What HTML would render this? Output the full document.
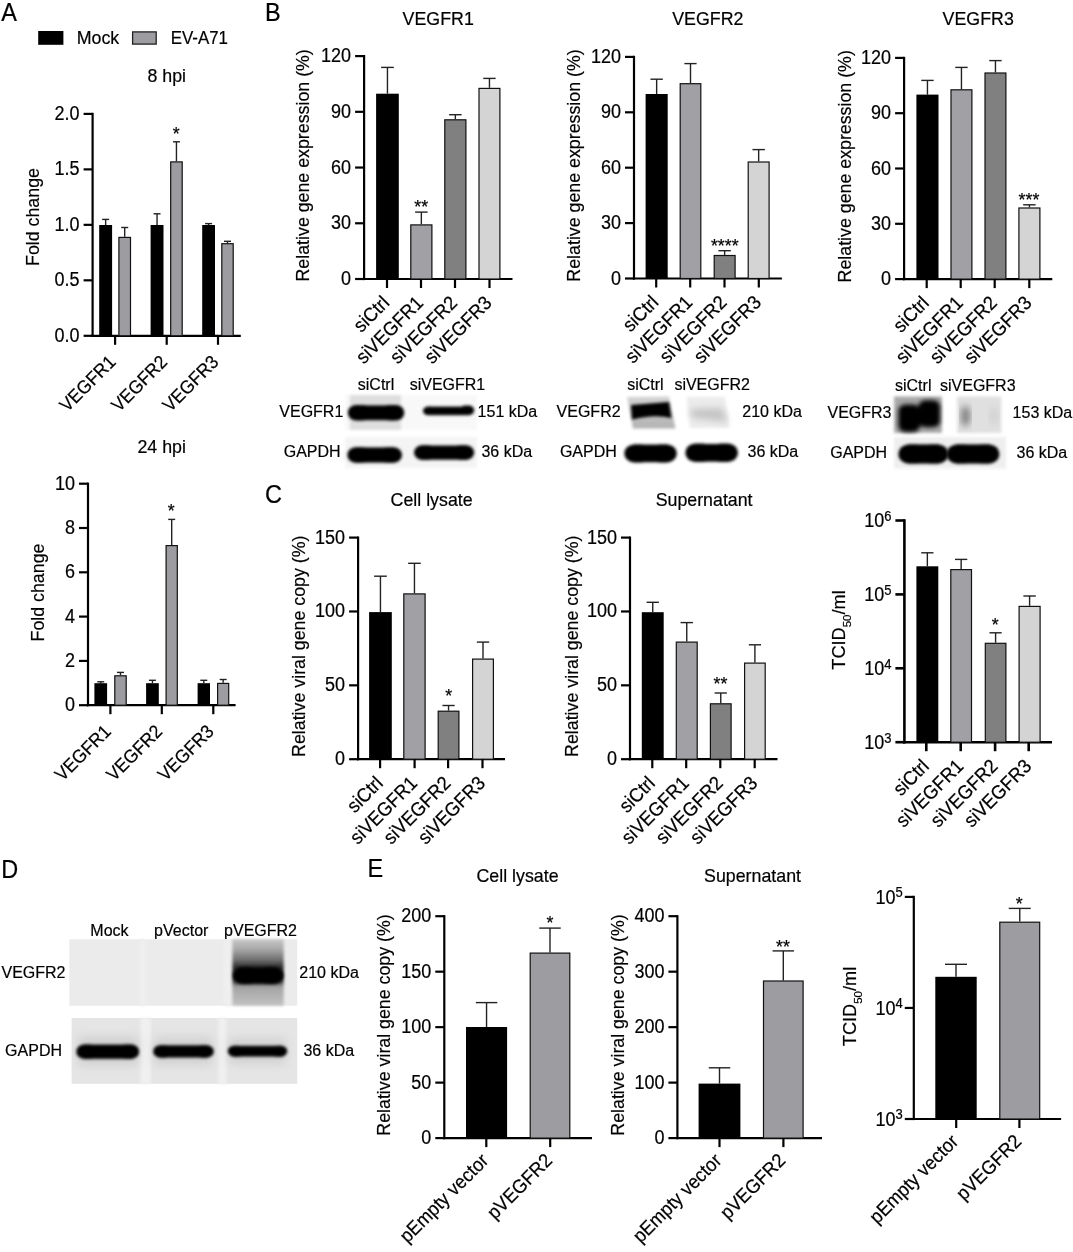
<!DOCTYPE html>
<html><head><meta charset="utf-8"><style>
html,body{margin:0;padding:0;background:#fff;}
svg{display:block;will-change:transform;}
text{font-family:"Liberation Sans",sans-serif;fill:#000;stroke:#000;stroke-width:0.2px;}
</style></head><body>
<svg width="1073" height="1252" viewBox="0 0 1073 1252">
<defs>
<linearGradient id="gd3" x1="0" y1="0" x2="0" y2="1"><stop offset="0" stop-color="#c6c6c6"/><stop offset="0.15" stop-color="#a8a8a8"/><stop offset="0.32" stop-color="#6a6a6a"/><stop offset="0.42" stop-color="#2a2a2a"/><stop offset="0.64" stop-color="#444"/><stop offset="0.72" stop-color="#a4a4a4"/><stop offset="1" stop-color="#c2c2c2"/></linearGradient>
<linearGradient id="gv2" x1="0" y1="0" x2="0" y2="1"><stop offset="0" stop-color="#d4d4d4"/><stop offset="1" stop-color="#b2b2b2"/></linearGradient>
<filter id="b1" x="-20%" y="-50%" width="140%" height="200%"><feGaussianBlur stdDeviation="1.9"/></filter>
<filter id="b2" x="-20%" y="-50%" width="140%" height="200%"><feGaussianBlur stdDeviation="3.5"/></filter>
<filter id="b4" x="-30%" y="-60%" width="160%" height="220%"><feGaussianBlur stdDeviation="5"/></filter>
<filter id="b3" x="-20%" y="-50%" width="140%" height="200%"><feGaussianBlur stdDeviation="1.5"/></filter>
</defs>
<rect x="38.20" y="31.00" width="25.20" height="13.80" fill="#000"/>
<text transform="translate(76.70,44.40) scale(1,1.07)" font-size="17.8" text-anchor="start" >Mock</text>
<rect x="132.60" y="31.90" width="23.60" height="12.20" fill="#9d9da1" stroke="#222" stroke-width="1.3"/>
<text transform="translate(170.70,44.40) scale(1,1.07)" font-size="17.8" text-anchor="start" textLength="57.3" lengthAdjust="spacingAndGlyphs">EV-A71</text>
<text transform="translate(166.70,82.20) scale(1,1.07)" font-size="17.8" text-anchor="middle" >8 hpi</text>
<line x1="92.60" y1="112.80" x2="92.60" y2="336.90" stroke="#000" stroke-width="2.2"/>
<line x1="91.50" y1="335.80" x2="240.80" y2="335.80" stroke="#000" stroke-width="2.2"/>
<line x1="83.60" y1="335.80" x2="92.60" y2="335.80" stroke="#000" stroke-width="2.2"/>
<text transform="translate(79.60,341.80) scale(1,1.08)" font-size="18.0" text-anchor="end" >0.0</text>
<line x1="83.60" y1="280.32" x2="92.60" y2="280.32" stroke="#000" stroke-width="2.2"/>
<text transform="translate(79.60,286.32) scale(1,1.08)" font-size="18.0" text-anchor="end" >0.5</text>
<line x1="83.60" y1="224.85" x2="92.60" y2="224.85" stroke="#000" stroke-width="2.2"/>
<text transform="translate(79.60,230.85) scale(1,1.08)" font-size="18.0" text-anchor="end" >1.0</text>
<line x1="83.60" y1="169.38" x2="92.60" y2="169.38" stroke="#000" stroke-width="2.2"/>
<text transform="translate(79.60,175.38) scale(1,1.08)" font-size="18.0" text-anchor="end" >1.5</text>
<line x1="83.60" y1="113.90" x2="92.60" y2="113.90" stroke="#000" stroke-width="2.2"/>
<text transform="translate(79.60,119.90) scale(1,1.08)" font-size="18.0" text-anchor="end" >2.0</text>
<line x1="105.65" y1="219.40" x2="105.65" y2="225.00" stroke="#222" stroke-width="1.4"/>
<line x1="102.15" y1="219.40" x2="109.15" y2="219.40" stroke="#222" stroke-width="1.4"/>
<rect x="99.20" y="225.00" width="12.90" height="110.80" fill="#000"/>
<line x1="124.70" y1="227.50" x2="124.70" y2="236.80" stroke="#222" stroke-width="1.4"/>
<line x1="121.20" y1="227.50" x2="128.20" y2="227.50" stroke="#222" stroke-width="1.4"/>
<rect x="118.90" y="237.40" width="11.60" height="98.40" fill="#9d9da1" stroke="#111" stroke-width="1.2"/>
<line x1="157.05" y1="213.80" x2="157.05" y2="225.00" stroke="#222" stroke-width="1.4"/>
<line x1="153.55" y1="213.80" x2="160.55" y2="213.80" stroke="#222" stroke-width="1.4"/>
<rect x="150.60" y="225.00" width="12.90" height="110.80" fill="#000"/>
<line x1="176.45" y1="141.80" x2="176.45" y2="161.30" stroke="#222" stroke-width="1.4"/>
<line x1="172.95" y1="141.80" x2="179.95" y2="141.80" stroke="#222" stroke-width="1.4"/>
<rect x="170.70" y="161.90" width="11.50" height="173.90" fill="#9d9da1" stroke="#111" stroke-width="1.2"/>
<line x1="208.60" y1="223.60" x2="208.60" y2="225.00" stroke="#222" stroke-width="1.4"/>
<line x1="205.10" y1="223.60" x2="212.10" y2="223.60" stroke="#222" stroke-width="1.4"/>
<rect x="202.20" y="225.00" width="12.80" height="110.80" fill="#000"/>
<line x1="227.50" y1="241.30" x2="227.50" y2="243.10" stroke="#222" stroke-width="1.4"/>
<line x1="224.00" y1="241.30" x2="231.00" y2="241.30" stroke="#222" stroke-width="1.4"/>
<rect x="221.80" y="243.70" width="11.40" height="92.10" fill="#9d9da1" stroke="#111" stroke-width="1.2"/>
<line x1="115.10" y1="335.80" x2="115.10" y2="344.80" stroke="#000" stroke-width="2.2"/>
<line x1="166.70" y1="335.80" x2="166.70" y2="344.80" stroke="#000" stroke-width="2.2"/>
<line x1="218.00" y1="335.80" x2="218.00" y2="344.80" stroke="#000" stroke-width="2.2"/>
<text transform="translate(116.80,363.20) rotate(-45) scale(1,1.07)" font-size="17.5" text-anchor="end">VEGFR1</text>
<text transform="translate(168.40,363.20) rotate(-45) scale(1,1.07)" font-size="17.5" text-anchor="end">VEGFR2</text>
<text transform="translate(219.70,363.20) rotate(-45) scale(1,1.07)" font-size="17.5" text-anchor="end">VEGFR3</text>
<text transform="translate(38.50,217.00) rotate(-90)" font-size="17.8" text-anchor="middle">Fold change</text>
<text transform="translate(176.20,140.20) scale(1,1.07)" font-size="17.8" text-anchor="middle" >*</text>
<text transform="translate(161.70,452.60) scale(1,1.07)" font-size="17.8" text-anchor="middle" >24 hpi</text>
<line x1="88.00" y1="482.60" x2="88.00" y2="706.30" stroke="#000" stroke-width="2.2"/>
<line x1="86.90" y1="705.20" x2="235.60" y2="705.20" stroke="#000" stroke-width="2.2"/>
<line x1="79.00" y1="705.20" x2="88.00" y2="705.20" stroke="#000" stroke-width="2.2"/>
<text transform="translate(75.00,711.20) scale(1,1.08)" font-size="18.0" text-anchor="end" >0</text>
<line x1="79.00" y1="660.90" x2="88.00" y2="660.90" stroke="#000" stroke-width="2.2"/>
<text transform="translate(75.00,666.90) scale(1,1.08)" font-size="18.0" text-anchor="end" >2</text>
<line x1="79.00" y1="616.60" x2="88.00" y2="616.60" stroke="#000" stroke-width="2.2"/>
<text transform="translate(75.00,622.60) scale(1,1.08)" font-size="18.0" text-anchor="end" >4</text>
<line x1="79.00" y1="572.30" x2="88.00" y2="572.30" stroke="#000" stroke-width="2.2"/>
<text transform="translate(75.00,578.30) scale(1,1.08)" font-size="18.0" text-anchor="end" >6</text>
<line x1="79.00" y1="528.00" x2="88.00" y2="528.00" stroke="#000" stroke-width="2.2"/>
<text transform="translate(75.00,534.00) scale(1,1.08)" font-size="18.0" text-anchor="end" >8</text>
<line x1="79.00" y1="483.70" x2="88.00" y2="483.70" stroke="#000" stroke-width="2.2"/>
<text transform="translate(75.00,489.70) scale(1,1.08)" font-size="18.0" text-anchor="end" >10</text>
<line x1="100.75" y1="681.80" x2="100.75" y2="683.20" stroke="#222" stroke-width="1.4"/>
<line x1="97.25" y1="681.80" x2="104.25" y2="681.80" stroke="#222" stroke-width="1.4"/>
<rect x="94.40" y="683.20" width="12.70" height="22.00" fill="#000"/>
<line x1="120.50" y1="672.40" x2="120.50" y2="675.20" stroke="#222" stroke-width="1.4"/>
<line x1="117.00" y1="672.40" x2="124.00" y2="672.40" stroke="#222" stroke-width="1.4"/>
<rect x="114.80" y="675.80" width="11.40" height="29.40" fill="#9d9da1" stroke="#111" stroke-width="1.2"/>
<line x1="152.45" y1="680.30" x2="152.45" y2="683.20" stroke="#222" stroke-width="1.4"/>
<line x1="148.95" y1="680.30" x2="155.95" y2="680.30" stroke="#222" stroke-width="1.4"/>
<rect x="146.10" y="683.20" width="12.70" height="22.00" fill="#000"/>
<line x1="171.70" y1="519.40" x2="171.70" y2="545.00" stroke="#222" stroke-width="1.4"/>
<line x1="168.20" y1="519.40" x2="175.20" y2="519.40" stroke="#222" stroke-width="1.4"/>
<rect x="166.10" y="545.60" width="11.20" height="159.60" fill="#9d9da1" stroke="#111" stroke-width="1.2"/>
<line x1="203.80" y1="680.30" x2="203.80" y2="683.20" stroke="#222" stroke-width="1.4"/>
<line x1="200.30" y1="680.30" x2="207.30" y2="680.30" stroke="#222" stroke-width="1.4"/>
<rect x="197.60" y="683.20" width="12.40" height="22.00" fill="#000"/>
<line x1="223.15" y1="679.50" x2="223.15" y2="682.80" stroke="#222" stroke-width="1.4"/>
<line x1="219.65" y1="679.50" x2="226.65" y2="679.50" stroke="#222" stroke-width="1.4"/>
<rect x="217.60" y="683.40" width="11.10" height="21.80" fill="#9d9da1" stroke="#111" stroke-width="1.2"/>
<line x1="110.40" y1="705.20" x2="110.40" y2="714.20" stroke="#000" stroke-width="2.2"/>
<line x1="161.80" y1="705.20" x2="161.80" y2="714.20" stroke="#000" stroke-width="2.2"/>
<line x1="213.30" y1="705.20" x2="213.30" y2="714.20" stroke="#000" stroke-width="2.2"/>
<text transform="translate(112.10,732.60) rotate(-45) scale(1,1.07)" font-size="17.5" text-anchor="end">VEGFR1</text>
<text transform="translate(163.50,732.60) rotate(-45) scale(1,1.07)" font-size="17.5" text-anchor="end">VEGFR2</text>
<text transform="translate(215.00,732.60) rotate(-45) scale(1,1.07)" font-size="17.5" text-anchor="end">VEGFR3</text>
<text transform="translate(44.00,592.50) rotate(-90)" font-size="17.8" text-anchor="middle">Fold change</text>
<text transform="translate(171.20,517.00) scale(1,1.07)" font-size="17.8" text-anchor="middle" >*</text>
<line x1="364.10" y1="55.00" x2="364.10" y2="280.10" stroke="#000" stroke-width="2.2"/>
<line x1="363.00" y1="279.00" x2="512.50" y2="279.00" stroke="#000" stroke-width="2.2"/>
<line x1="355.10" y1="279.00" x2="364.10" y2="279.00" stroke="#000" stroke-width="2.2"/>
<text transform="translate(351.10,285.00) scale(1,1.08)" font-size="18.0" text-anchor="end" >0</text>
<line x1="355.10" y1="223.28" x2="364.10" y2="223.28" stroke="#000" stroke-width="2.2"/>
<text transform="translate(351.10,229.28) scale(1,1.08)" font-size="18.0" text-anchor="end" >30</text>
<line x1="355.10" y1="167.55" x2="364.10" y2="167.55" stroke="#000" stroke-width="2.2"/>
<text transform="translate(351.10,173.55) scale(1,1.08)" font-size="18.0" text-anchor="end" >60</text>
<line x1="355.10" y1="111.82" x2="364.10" y2="111.82" stroke="#000" stroke-width="2.2"/>
<text transform="translate(351.10,117.82) scale(1,1.08)" font-size="18.0" text-anchor="end" >90</text>
<line x1="355.10" y1="56.10" x2="364.10" y2="56.10" stroke="#000" stroke-width="2.2"/>
<text transform="translate(351.10,62.10) scale(1,1.08)" font-size="18.0" text-anchor="end" >120</text>
<line x1="387.45" y1="67.40" x2="387.45" y2="93.70" stroke="#222" stroke-width="1.4"/>
<line x1="381.09" y1="67.40" x2="393.81" y2="67.40" stroke="#222" stroke-width="1.4"/>
<rect x="376.10" y="93.70" width="22.70" height="185.30" fill="#000"/>
<line x1="421.35" y1="212.10" x2="421.35" y2="224.30" stroke="#222" stroke-width="1.4"/>
<line x1="415.11" y1="212.10" x2="427.59" y2="212.10" stroke="#222" stroke-width="1.4"/>
<rect x="410.80" y="224.90" width="21.10" height="54.10" fill="#a0a0a5" stroke="#111" stroke-width="1.2"/>
<line x1="455.35" y1="114.70" x2="455.35" y2="119.20" stroke="#222" stroke-width="1.4"/>
<line x1="449.11" y1="114.70" x2="461.59" y2="114.70" stroke="#222" stroke-width="1.4"/>
<rect x="444.80" y="119.80" width="21.10" height="159.20" fill="#808080" stroke="#111" stroke-width="1.2"/>
<line x1="489.45" y1="78.40" x2="489.45" y2="87.80" stroke="#222" stroke-width="1.4"/>
<line x1="483.26" y1="78.40" x2="495.64" y2="78.40" stroke="#222" stroke-width="1.4"/>
<rect x="479.00" y="88.40" width="20.90" height="190.60" fill="#d4d4d4" stroke="#111" stroke-width="1.2"/>
<line x1="387.00" y1="279.00" x2="387.00" y2="288.00" stroke="#000" stroke-width="2.2"/>
<line x1="421.00" y1="279.00" x2="421.00" y2="288.00" stroke="#000" stroke-width="2.2"/>
<line x1="455.00" y1="279.00" x2="455.00" y2="288.00" stroke="#000" stroke-width="2.2"/>
<line x1="489.50" y1="279.00" x2="489.50" y2="288.00" stroke="#000" stroke-width="2.2"/>
<text transform="translate(390.50,304.00) rotate(-45) scale(1,1.07)" font-size="18.2" text-anchor="end">siCtrl</text>
<text transform="translate(424.50,304.00) rotate(-45) scale(1,1.07)" font-size="18.2" text-anchor="end">siVEGFR1</text>
<text transform="translate(458.50,304.00) rotate(-45) scale(1,1.07)" font-size="18.2" text-anchor="end">siVEGFR2</text>
<text transform="translate(493.00,304.00) rotate(-45) scale(1,1.07)" font-size="18.2" text-anchor="end">siVEGFR3</text>
<text transform="translate(308.50,165.35) rotate(-90)" font-size="17.8" text-anchor="middle">Relative gene expression (%)</text>
<text transform="translate(438.20,24.90) scale(1,1.07)" font-size="17.8" text-anchor="middle" >VEGFR1</text>
<text transform="translate(421.30,213.00) scale(1,1.07)" font-size="17.8" text-anchor="middle" >**</text>
<line x1="634.00" y1="55.80" x2="634.00" y2="279.60" stroke="#000" stroke-width="2.2"/>
<line x1="632.90" y1="278.50" x2="781.90" y2="278.50" stroke="#000" stroke-width="2.2"/>
<line x1="625.00" y1="278.50" x2="634.00" y2="278.50" stroke="#000" stroke-width="2.2"/>
<text transform="translate(621.00,284.50) scale(1,1.08)" font-size="18.0" text-anchor="end" >0</text>
<line x1="625.00" y1="223.10" x2="634.00" y2="223.10" stroke="#000" stroke-width="2.2"/>
<text transform="translate(621.00,229.10) scale(1,1.08)" font-size="18.0" text-anchor="end" >30</text>
<line x1="625.00" y1="167.70" x2="634.00" y2="167.70" stroke="#000" stroke-width="2.2"/>
<text transform="translate(621.00,173.70) scale(1,1.08)" font-size="18.0" text-anchor="end" >60</text>
<line x1="625.00" y1="112.30" x2="634.00" y2="112.30" stroke="#000" stroke-width="2.2"/>
<text transform="translate(621.00,118.30) scale(1,1.08)" font-size="18.0" text-anchor="end" >90</text>
<line x1="625.00" y1="56.90" x2="634.00" y2="56.90" stroke="#000" stroke-width="2.2"/>
<text transform="translate(621.00,62.90) scale(1,1.08)" font-size="18.0" text-anchor="end" >120</text>
<line x1="656.65" y1="79.20" x2="656.65" y2="94.00" stroke="#222" stroke-width="1.4"/>
<line x1="650.46" y1="79.20" x2="662.84" y2="79.20" stroke="#222" stroke-width="1.4"/>
<rect x="645.60" y="94.00" width="22.10" height="184.50" fill="#000"/>
<line x1="690.50" y1="63.60" x2="690.50" y2="83.10" stroke="#222" stroke-width="1.4"/>
<line x1="684.40" y1="63.60" x2="696.60" y2="63.60" stroke="#222" stroke-width="1.4"/>
<rect x="680.20" y="83.70" width="20.60" height="194.80" fill="#a0a0a5" stroke="#111" stroke-width="1.2"/>
<line x1="724.65" y1="250.70" x2="724.65" y2="254.90" stroke="#222" stroke-width="1.4"/>
<line x1="718.46" y1="250.70" x2="730.84" y2="250.70" stroke="#222" stroke-width="1.4"/>
<rect x="714.20" y="255.50" width="20.90" height="23.00" fill="#808080" stroke="#111" stroke-width="1.2"/>
<line x1="758.65" y1="149.60" x2="758.65" y2="161.40" stroke="#222" stroke-width="1.4"/>
<line x1="752.46" y1="149.60" x2="764.84" y2="149.60" stroke="#222" stroke-width="1.4"/>
<rect x="748.20" y="162.00" width="20.90" height="116.50" fill="#d4d4d4" stroke="#111" stroke-width="1.2"/>
<line x1="656.20" y1="278.50" x2="656.20" y2="287.50" stroke="#000" stroke-width="2.2"/>
<line x1="690.20" y1="278.50" x2="690.20" y2="287.50" stroke="#000" stroke-width="2.2"/>
<line x1="724.50" y1="278.50" x2="724.50" y2="287.50" stroke="#000" stroke-width="2.2"/>
<line x1="758.80" y1="278.50" x2="758.80" y2="287.50" stroke="#000" stroke-width="2.2"/>
<text transform="translate(659.70,303.50) rotate(-45) scale(1,1.07)" font-size="18.2" text-anchor="end">siCtrl</text>
<text transform="translate(693.70,303.50) rotate(-45) scale(1,1.07)" font-size="18.2" text-anchor="end">siVEGFR1</text>
<text transform="translate(728.00,303.50) rotate(-45) scale(1,1.07)" font-size="18.2" text-anchor="end">siVEGFR2</text>
<text transform="translate(762.30,303.50) rotate(-45) scale(1,1.07)" font-size="18.2" text-anchor="end">siVEGFR3</text>
<text transform="translate(580.00,165.50) rotate(-90)" font-size="17.8" text-anchor="middle">Relative gene expression (%)</text>
<text transform="translate(707.80,24.90) scale(1,1.07)" font-size="17.8" text-anchor="middle" >VEGFR2</text>
<text transform="translate(724.80,252.00) scale(1,1.07)" font-size="17.8" text-anchor="middle" >****</text>
<line x1="904.10" y1="56.80" x2="904.10" y2="280.20" stroke="#000" stroke-width="2.2"/>
<line x1="903.00" y1="279.10" x2="1052.30" y2="279.10" stroke="#000" stroke-width="2.2"/>
<line x1="895.10" y1="279.10" x2="904.10" y2="279.10" stroke="#000" stroke-width="2.2"/>
<text transform="translate(891.10,285.10) scale(1,1.08)" font-size="18.0" text-anchor="end" >0</text>
<line x1="895.10" y1="223.80" x2="904.10" y2="223.80" stroke="#000" stroke-width="2.2"/>
<text transform="translate(891.10,229.80) scale(1,1.08)" font-size="18.0" text-anchor="end" >30</text>
<line x1="895.10" y1="168.50" x2="904.10" y2="168.50" stroke="#000" stroke-width="2.2"/>
<text transform="translate(891.10,174.50) scale(1,1.08)" font-size="18.0" text-anchor="end" >60</text>
<line x1="895.10" y1="113.20" x2="904.10" y2="113.20" stroke="#000" stroke-width="2.2"/>
<text transform="translate(891.10,119.20) scale(1,1.08)" font-size="18.0" text-anchor="end" >90</text>
<line x1="895.10" y1="57.90" x2="904.10" y2="57.90" stroke="#000" stroke-width="2.2"/>
<text transform="translate(891.10,63.90) scale(1,1.08)" font-size="18.0" text-anchor="end" >120</text>
<line x1="927.45" y1="80.40" x2="927.45" y2="94.60" stroke="#222" stroke-width="1.4"/>
<line x1="921.26" y1="80.40" x2="933.64" y2="80.40" stroke="#222" stroke-width="1.4"/>
<rect x="916.40" y="94.60" width="22.10" height="184.50" fill="#000"/>
<line x1="961.45" y1="67.40" x2="961.45" y2="89.20" stroke="#222" stroke-width="1.4"/>
<line x1="955.26" y1="67.40" x2="967.64" y2="67.40" stroke="#222" stroke-width="1.4"/>
<rect x="951.00" y="89.80" width="20.90" height="189.30" fill="#a0a0a5" stroke="#111" stroke-width="1.2"/>
<line x1="995.45" y1="60.60" x2="995.45" y2="72.40" stroke="#222" stroke-width="1.4"/>
<line x1="989.26" y1="60.60" x2="1001.64" y2="60.60" stroke="#222" stroke-width="1.4"/>
<rect x="985.00" y="73.00" width="20.90" height="206.10" fill="#808080" stroke="#111" stroke-width="1.2"/>
<line x1="1029.40" y1="204.80" x2="1029.40" y2="207.40" stroke="#222" stroke-width="1.4"/>
<line x1="1023.18" y1="204.80" x2="1035.62" y2="204.80" stroke="#222" stroke-width="1.4"/>
<rect x="1018.90" y="208.00" width="21.00" height="71.10" fill="#d4d4d4" stroke="#111" stroke-width="1.2"/>
<line x1="926.70" y1="279.10" x2="926.70" y2="288.10" stroke="#000" stroke-width="2.2"/>
<line x1="960.70" y1="279.10" x2="960.70" y2="288.10" stroke="#000" stroke-width="2.2"/>
<line x1="994.70" y1="279.10" x2="994.70" y2="288.10" stroke="#000" stroke-width="2.2"/>
<line x1="1029.30" y1="279.10" x2="1029.30" y2="288.10" stroke="#000" stroke-width="2.2"/>
<text transform="translate(930.20,304.10) rotate(-45) scale(1,1.07)" font-size="18.2" text-anchor="end">siCtrl</text>
<text transform="translate(964.20,304.10) rotate(-45) scale(1,1.07)" font-size="18.2" text-anchor="end">siVEGFR1</text>
<text transform="translate(998.20,304.10) rotate(-45) scale(1,1.07)" font-size="18.2" text-anchor="end">siVEGFR2</text>
<text transform="translate(1032.80,304.10) rotate(-45) scale(1,1.07)" font-size="18.2" text-anchor="end">siVEGFR3</text>
<text transform="translate(851.00,166.30) rotate(-90)" font-size="17.8" text-anchor="middle">Relative gene expression (%)</text>
<text transform="translate(978.20,24.90) scale(1,1.07)" font-size="17.8" text-anchor="middle" >VEGFR3</text>
<text transform="translate(1029.00,206.20) scale(1,1.07)" font-size="17.8" text-anchor="middle" >***</text>
<line x1="358.10" y1="536.50" x2="358.10" y2="760.30" stroke="#000" stroke-width="2.2"/>
<line x1="357.00" y1="759.20" x2="505.00" y2="759.20" stroke="#000" stroke-width="2.2"/>
<line x1="349.10" y1="759.20" x2="358.10" y2="759.20" stroke="#000" stroke-width="2.2"/>
<text transform="translate(345.10,765.20) scale(1,1.08)" font-size="18.0" text-anchor="end" >0</text>
<line x1="349.10" y1="685.33" x2="358.10" y2="685.33" stroke="#000" stroke-width="2.2"/>
<text transform="translate(345.10,691.33) scale(1,1.08)" font-size="18.0" text-anchor="end" >50</text>
<line x1="349.10" y1="611.47" x2="358.10" y2="611.47" stroke="#000" stroke-width="2.2"/>
<text transform="translate(345.10,617.47) scale(1,1.08)" font-size="18.0" text-anchor="end" >100</text>
<line x1="349.10" y1="537.60" x2="358.10" y2="537.60" stroke="#000" stroke-width="2.2"/>
<text transform="translate(345.10,543.60) scale(1,1.08)" font-size="18.0" text-anchor="end" >150</text>
<line x1="380.45" y1="576.20" x2="380.45" y2="612.10" stroke="#222" stroke-width="1.4"/>
<line x1="374.09" y1="576.20" x2="386.81" y2="576.20" stroke="#222" stroke-width="1.4"/>
<rect x="369.10" y="612.10" width="22.70" height="147.10" fill="#000"/>
<line x1="414.45" y1="563.30" x2="414.45" y2="593.30" stroke="#222" stroke-width="1.4"/>
<line x1="408.15" y1="563.30" x2="420.75" y2="563.30" stroke="#222" stroke-width="1.4"/>
<rect x="403.80" y="593.90" width="21.30" height="165.30" fill="#a0a0a5" stroke="#111" stroke-width="1.2"/>
<line x1="448.55" y1="705.50" x2="448.55" y2="710.60" stroke="#222" stroke-width="1.4"/>
<line x1="442.42" y1="705.50" x2="454.68" y2="705.50" stroke="#222" stroke-width="1.4"/>
<rect x="438.20" y="711.20" width="20.70" height="48.00" fill="#808080" stroke="#111" stroke-width="1.2"/>
<line x1="483.00" y1="642.10" x2="483.00" y2="658.50" stroke="#222" stroke-width="1.4"/>
<line x1="476.84" y1="642.10" x2="489.16" y2="642.10" stroke="#222" stroke-width="1.4"/>
<rect x="472.60" y="659.10" width="20.80" height="100.10" fill="#d4d4d4" stroke="#111" stroke-width="1.2"/>
<line x1="380.10" y1="759.20" x2="380.10" y2="768.20" stroke="#000" stroke-width="2.2"/>
<line x1="414.60" y1="759.20" x2="414.60" y2="768.20" stroke="#000" stroke-width="2.2"/>
<line x1="448.10" y1="759.20" x2="448.10" y2="768.20" stroke="#000" stroke-width="2.2"/>
<line x1="482.50" y1="759.20" x2="482.50" y2="768.20" stroke="#000" stroke-width="2.2"/>
<text transform="translate(384.00,784.40) rotate(-45) scale(1,1.07)" font-size="18.2" text-anchor="end">siCtrl</text>
<text transform="translate(418.50,784.40) rotate(-45) scale(1,1.07)" font-size="18.2" text-anchor="end">siVEGFR1</text>
<text transform="translate(452.00,784.40) rotate(-45) scale(1,1.07)" font-size="18.2" text-anchor="end">siVEGFR2</text>
<text transform="translate(486.40,784.40) rotate(-45) scale(1,1.07)" font-size="18.2" text-anchor="end">siVEGFR3</text>
<text transform="translate(304.50,646.20) rotate(-90)" font-size="17.8" text-anchor="middle">Relative viral gene copy (%)</text>
<text transform="translate(431.60,506.30) scale(1,1.07)" font-size="17.8" text-anchor="middle" >Cell lysate</text>
<text transform="translate(448.60,701.50) scale(1,1.07)" font-size="17.8" text-anchor="middle" >*</text>
<line x1="630.00" y1="536.50" x2="630.00" y2="760.30" stroke="#000" stroke-width="2.2"/>
<line x1="628.90" y1="759.20" x2="777.50" y2="759.20" stroke="#000" stroke-width="2.2"/>
<line x1="621.00" y1="759.20" x2="630.00" y2="759.20" stroke="#000" stroke-width="2.2"/>
<text transform="translate(617.00,765.20) scale(1,1.08)" font-size="18.0" text-anchor="end" >0</text>
<line x1="621.00" y1="685.33" x2="630.00" y2="685.33" stroke="#000" stroke-width="2.2"/>
<text transform="translate(617.00,691.33) scale(1,1.08)" font-size="18.0" text-anchor="end" >50</text>
<line x1="621.00" y1="611.47" x2="630.00" y2="611.47" stroke="#000" stroke-width="2.2"/>
<text transform="translate(617.00,617.47) scale(1,1.08)" font-size="18.0" text-anchor="end" >100</text>
<line x1="621.00" y1="537.60" x2="630.00" y2="537.60" stroke="#000" stroke-width="2.2"/>
<text transform="translate(617.00,543.60) scale(1,1.08)" font-size="18.0" text-anchor="end" >150</text>
<line x1="652.75" y1="602.30" x2="652.75" y2="612.20" stroke="#222" stroke-width="1.4"/>
<line x1="646.62" y1="602.30" x2="658.88" y2="602.30" stroke="#222" stroke-width="1.4"/>
<rect x="641.80" y="612.20" width="21.90" height="147.00" fill="#000"/>
<line x1="686.75" y1="622.60" x2="686.75" y2="641.50" stroke="#222" stroke-width="1.4"/>
<line x1="680.56" y1="622.60" x2="692.94" y2="622.60" stroke="#222" stroke-width="1.4"/>
<rect x="676.30" y="642.10" width="20.90" height="117.10" fill="#a0a0a5" stroke="#111" stroke-width="1.2"/>
<line x1="720.75" y1="693.00" x2="720.75" y2="703.20" stroke="#222" stroke-width="1.4"/>
<line x1="714.62" y1="693.00" x2="726.88" y2="693.00" stroke="#222" stroke-width="1.4"/>
<rect x="710.40" y="703.80" width="20.70" height="55.40" fill="#808080" stroke="#111" stroke-width="1.2"/>
<line x1="754.90" y1="644.80" x2="754.90" y2="662.50" stroke="#222" stroke-width="1.4"/>
<line x1="748.80" y1="644.80" x2="761.00" y2="644.80" stroke="#222" stroke-width="1.4"/>
<rect x="744.60" y="663.10" width="20.60" height="96.10" fill="#d4d4d4" stroke="#111" stroke-width="1.2"/>
<line x1="652.30" y1="759.20" x2="652.30" y2="768.20" stroke="#000" stroke-width="2.2"/>
<line x1="686.20" y1="759.20" x2="686.20" y2="768.20" stroke="#000" stroke-width="2.2"/>
<line x1="720.30" y1="759.20" x2="720.30" y2="768.20" stroke="#000" stroke-width="2.2"/>
<line x1="754.70" y1="759.20" x2="754.70" y2="768.20" stroke="#000" stroke-width="2.2"/>
<text transform="translate(656.20,784.40) rotate(-45) scale(1,1.07)" font-size="18.2" text-anchor="end">siCtrl</text>
<text transform="translate(690.10,784.40) rotate(-45) scale(1,1.07)" font-size="18.2" text-anchor="end">siVEGFR1</text>
<text transform="translate(724.20,784.40) rotate(-45) scale(1,1.07)" font-size="18.2" text-anchor="end">siVEGFR2</text>
<text transform="translate(758.60,784.40) rotate(-45) scale(1,1.07)" font-size="18.2" text-anchor="end">siVEGFR3</text>
<text transform="translate(577.50,646.20) rotate(-90)" font-size="17.8" text-anchor="middle">Relative viral gene copy (%)</text>
<text transform="translate(704.10,506.30) scale(1,1.07)" font-size="17.8" text-anchor="middle" >Supernatant</text>
<text transform="translate(720.50,689.50) scale(1,1.07)" font-size="17.8" text-anchor="middle" >**</text>
<line x1="904.40" y1="519.20" x2="904.40" y2="743.50" stroke="#000" stroke-width="2.6"/>
<line x1="903.10" y1="742.20" x2="1052.00" y2="742.20" stroke="#000" stroke-width="2.6"/>
<line x1="895.40" y1="742.20" x2="904.40" y2="742.20" stroke="#000" stroke-width="2.6"/>
<text transform="translate(891.60,749.10) scale(1,1.08)" font-size="18.0" text-anchor="end">10<tspan font-size="13" dy="-6.0">3</tspan></text>
<line x1="895.40" y1="668.30" x2="904.40" y2="668.30" stroke="#000" stroke-width="2.6"/>
<text transform="translate(891.60,675.20) scale(1,1.08)" font-size="18.0" text-anchor="end">10<tspan font-size="13" dy="-6.0">4</tspan></text>
<line x1="895.40" y1="594.40" x2="904.40" y2="594.40" stroke="#000" stroke-width="2.6"/>
<text transform="translate(891.60,601.30) scale(1,1.08)" font-size="18.0" text-anchor="end">10<tspan font-size="13" dy="-6.0">5</tspan></text>
<line x1="895.40" y1="520.50" x2="904.40" y2="520.50" stroke="#000" stroke-width="2.6"/>
<text transform="translate(891.60,527.40) scale(1,1.08)" font-size="18.0" text-anchor="end">10<tspan font-size="13" dy="-6.0">6</tspan></text>
<line x1="927.35" y1="552.80" x2="927.35" y2="566.30" stroke="#222" stroke-width="1.4"/>
<line x1="921.22" y1="552.80" x2="933.48" y2="552.80" stroke="#222" stroke-width="1.4"/>
<rect x="916.40" y="566.30" width="21.90" height="175.90" fill="#000"/>
<line x1="961.15" y1="559.40" x2="961.15" y2="569.00" stroke="#222" stroke-width="1.4"/>
<line x1="955.02" y1="559.40" x2="967.28" y2="559.40" stroke="#222" stroke-width="1.4"/>
<rect x="950.80" y="569.60" width="20.70" height="172.60" fill="#a0a0a5" stroke="#111" stroke-width="1.2"/>
<line x1="995.60" y1="632.80" x2="995.60" y2="642.70" stroke="#222" stroke-width="1.4"/>
<line x1="989.50" y1="632.80" x2="1001.70" y2="632.80" stroke="#222" stroke-width="1.4"/>
<rect x="985.30" y="643.30" width="20.60" height="98.90" fill="#808080" stroke="#111" stroke-width="1.2"/>
<line x1="1029.60" y1="596.00" x2="1029.60" y2="605.80" stroke="#222" stroke-width="1.4"/>
<line x1="1023.38" y1="596.00" x2="1035.82" y2="596.00" stroke="#222" stroke-width="1.4"/>
<rect x="1019.10" y="606.40" width="21.00" height="135.80" fill="#d4d4d4" stroke="#111" stroke-width="1.2"/>
<line x1="926.30" y1="742.20" x2="926.30" y2="751.20" stroke="#000" stroke-width="2.6"/>
<line x1="960.70" y1="742.20" x2="960.70" y2="751.20" stroke="#000" stroke-width="2.6"/>
<line x1="995.10" y1="742.20" x2="995.10" y2="751.20" stroke="#000" stroke-width="2.6"/>
<line x1="1028.70" y1="742.20" x2="1028.70" y2="751.20" stroke="#000" stroke-width="2.6"/>
<text transform="translate(930.20,767.40) rotate(-45) scale(1,1.07)" font-size="18.2" text-anchor="end">siCtrl</text>
<text transform="translate(964.60,767.40) rotate(-45) scale(1,1.07)" font-size="18.2" text-anchor="end">siVEGFR1</text>
<text transform="translate(999.00,767.40) rotate(-45) scale(1,1.07)" font-size="18.2" text-anchor="end">siVEGFR2</text>
<text transform="translate(1032.60,767.40) rotate(-45) scale(1,1.07)" font-size="18.2" text-anchor="end">siVEGFR3</text>
<text transform="translate(845.40,630.00) rotate(-90)" font-size="17.8" text-anchor="middle"><tspan font-size="18.2">TCID</tspan><tspan font-size="11.5" dy="5.5">50</tspan><tspan font-size="18.2" dy="-5.5">/ml</tspan></text>
<text transform="translate(995.10,630.70) scale(1,1.07)" font-size="17.8" text-anchor="middle" >*</text>
<line x1="444.30" y1="915.10" x2="444.30" y2="1139.20" stroke="#000" stroke-width="2.2"/>
<line x1="443.20" y1="1138.10" x2="592.00" y2="1138.10" stroke="#000" stroke-width="2.2"/>
<line x1="435.30" y1="1138.10" x2="444.30" y2="1138.10" stroke="#000" stroke-width="2.2"/>
<text transform="translate(431.30,1144.10) scale(1,1.08)" font-size="18.0" text-anchor="end" >0</text>
<line x1="435.30" y1="1082.62" x2="444.30" y2="1082.62" stroke="#000" stroke-width="2.2"/>
<text transform="translate(431.30,1088.62) scale(1,1.08)" font-size="18.0" text-anchor="end" >50</text>
<line x1="435.30" y1="1027.15" x2="444.30" y2="1027.15" stroke="#000" stroke-width="2.2"/>
<text transform="translate(431.30,1033.15) scale(1,1.08)" font-size="18.0" text-anchor="end" >100</text>
<line x1="435.30" y1="971.67" x2="444.30" y2="971.67" stroke="#000" stroke-width="2.2"/>
<text transform="translate(431.30,977.67) scale(1,1.08)" font-size="18.0" text-anchor="end" >150</text>
<line x1="435.30" y1="916.20" x2="444.30" y2="916.20" stroke="#000" stroke-width="2.2"/>
<text transform="translate(431.30,922.20) scale(1,1.08)" font-size="18.0" text-anchor="end" >200</text>
<line x1="486.55" y1="1002.60" x2="486.55" y2="1027.00" stroke="#222" stroke-width="1.4"/>
<line x1="475.80" y1="1002.60" x2="497.30" y2="1002.60" stroke="#222" stroke-width="1.4"/>
<rect x="466.00" y="1027.00" width="41.10" height="111.10" fill="#000"/>
<line x1="550.00" y1="928.10" x2="550.00" y2="952.50" stroke="#222" stroke-width="1.4"/>
<line x1="539.25" y1="928.10" x2="560.75" y2="928.10" stroke="#222" stroke-width="1.4"/>
<rect x="530.20" y="953.10" width="39.60" height="185.00" fill="#9d9da1" stroke="#111" stroke-width="1.2"/>
<line x1="486.30" y1="1138.10" x2="486.30" y2="1147.10" stroke="#000" stroke-width="2.2"/>
<line x1="550.20" y1="1138.10" x2="550.20" y2="1147.10" stroke="#000" stroke-width="2.2"/>
<text transform="translate(489.60,1161.70) rotate(-45) scale(1,1.07)" font-size="18.2" text-anchor="end">pEmpty vector</text>
<text transform="translate(553.50,1161.70) rotate(-45) scale(1,1.07)" font-size="18.2" text-anchor="end">pVEGFR2</text>
<text transform="translate(390.30,1024.95) rotate(-90)" font-size="17.8" text-anchor="middle">Relative viral gene copy (%)</text>
<text transform="translate(517.50,882.10) scale(1,1.07)" font-size="17.8" text-anchor="middle" >Cell lysate</text>
<text transform="translate(550.00,928.50) scale(1,1.07)" font-size="17.8" text-anchor="middle" >*</text>
<line x1="677.40" y1="915.10" x2="677.40" y2="1139.20" stroke="#000" stroke-width="2.2"/>
<line x1="676.30" y1="1138.10" x2="822.00" y2="1138.10" stroke="#000" stroke-width="2.2"/>
<line x1="668.40" y1="1138.10" x2="677.40" y2="1138.10" stroke="#000" stroke-width="2.2"/>
<text transform="translate(664.40,1144.10) scale(1,1.08)" font-size="18.0" text-anchor="end" >0</text>
<line x1="668.40" y1="1082.62" x2="677.40" y2="1082.62" stroke="#000" stroke-width="2.2"/>
<text transform="translate(664.40,1088.62) scale(1,1.08)" font-size="18.0" text-anchor="end" >100</text>
<line x1="668.40" y1="1027.15" x2="677.40" y2="1027.15" stroke="#000" stroke-width="2.2"/>
<text transform="translate(664.40,1033.15) scale(1,1.08)" font-size="18.0" text-anchor="end" >200</text>
<line x1="668.40" y1="971.67" x2="677.40" y2="971.67" stroke="#000" stroke-width="2.2"/>
<text transform="translate(664.40,977.67) scale(1,1.08)" font-size="18.0" text-anchor="end" >300</text>
<line x1="668.40" y1="916.20" x2="677.40" y2="916.20" stroke="#000" stroke-width="2.2"/>
<text transform="translate(664.40,922.20) scale(1,1.08)" font-size="18.0" text-anchor="end" >400</text>
<line x1="719.50" y1="1067.80" x2="719.50" y2="1083.60" stroke="#222" stroke-width="1.4"/>
<line x1="708.75" y1="1067.80" x2="730.25" y2="1067.80" stroke="#222" stroke-width="1.4"/>
<rect x="698.60" y="1083.60" width="41.80" height="54.50" fill="#000"/>
<line x1="783.30" y1="950.90" x2="783.30" y2="980.40" stroke="#222" stroke-width="1.4"/>
<line x1="772.55" y1="950.90" x2="794.05" y2="950.90" stroke="#222" stroke-width="1.4"/>
<rect x="763.50" y="981.00" width="39.60" height="157.10" fill="#9d9da1" stroke="#111" stroke-width="1.2"/>
<line x1="719.50" y1="1138.10" x2="719.50" y2="1147.10" stroke="#000" stroke-width="2.2"/>
<line x1="783.40" y1="1138.10" x2="783.40" y2="1147.10" stroke="#000" stroke-width="2.2"/>
<text transform="translate(722.80,1161.70) rotate(-45) scale(1,1.07)" font-size="18.2" text-anchor="end">pEmpty vector</text>
<text transform="translate(786.70,1161.70) rotate(-45) scale(1,1.07)" font-size="18.2" text-anchor="end">pVEGFR2</text>
<text transform="translate(623.50,1024.95) rotate(-90)" font-size="17.8" text-anchor="middle">Relative viral gene copy (%)</text>
<text transform="translate(752.50,882.10) scale(1,1.07)" font-size="17.8" text-anchor="middle" >Supernatant</text>
<text transform="translate(783.00,952.50) scale(1,1.07)" font-size="17.8" text-anchor="middle" >**</text>
<line x1="913.80" y1="895.80" x2="913.80" y2="1120.10" stroke="#000" stroke-width="2.2"/>
<line x1="912.70" y1="1119.00" x2="1061.10" y2="1119.00" stroke="#000" stroke-width="2.2"/>
<line x1="904.80" y1="1119.00" x2="913.80" y2="1119.00" stroke="#000" stroke-width="2.2"/>
<text transform="translate(902.80,1125.90) scale(1,1.08)" font-size="18.0" text-anchor="end">10<tspan font-size="13" dy="-6.0">3</tspan></text>
<line x1="904.80" y1="1007.95" x2="913.80" y2="1007.95" stroke="#000" stroke-width="2.2"/>
<text transform="translate(902.80,1014.85) scale(1,1.08)" font-size="18.0" text-anchor="end">10<tspan font-size="13" dy="-6.0">4</tspan></text>
<line x1="904.80" y1="896.90" x2="913.80" y2="896.90" stroke="#000" stroke-width="2.2"/>
<text transform="translate(902.80,903.80) scale(1,1.08)" font-size="18.0" text-anchor="end">10<tspan font-size="13" dy="-6.0">5</tspan></text>
<line x1="956.00" y1="964.30" x2="956.00" y2="976.80" stroke="#222" stroke-width="1.4"/>
<line x1="945.00" y1="964.30" x2="967.00" y2="964.30" stroke="#222" stroke-width="1.4"/>
<rect x="935.30" y="976.80" width="41.40" height="142.20" fill="#000"/>
<line x1="1019.75" y1="908.40" x2="1019.75" y2="921.60" stroke="#222" stroke-width="1.4"/>
<line x1="1008.75" y1="908.40" x2="1030.75" y2="908.40" stroke="#222" stroke-width="1.4"/>
<rect x="999.80" y="922.20" width="39.90" height="196.80" fill="#9d9da1" stroke="#111" stroke-width="1.2"/>
<line x1="956.20" y1="1119.00" x2="956.20" y2="1128.00" stroke="#000" stroke-width="2.2"/>
<line x1="1019.40" y1="1119.00" x2="1019.40" y2="1128.00" stroke="#000" stroke-width="2.2"/>
<text transform="translate(959.50,1142.60) rotate(-45) scale(1,1.07)" font-size="18.2" text-anchor="end">pEmpty vector</text>
<text transform="translate(1022.70,1142.60) rotate(-45) scale(1,1.07)" font-size="18.2" text-anchor="end">pVEGFR2</text>
<text transform="translate(856.40,1006.50) rotate(-90)" font-size="17.8" text-anchor="middle"><tspan font-size="18.2">TCID</tspan><tspan font-size="11.5" dy="5.5">50</tspan><tspan font-size="18.2" dy="-5.5">/ml</tspan></text>
<text transform="translate(1019.30,909.60) scale(1,1.07)" font-size="17.8" text-anchor="middle" >*</text>
<text transform="translate(1.20,20.90) scale(1,1.07)" font-size="23.5" text-anchor="start" >A</text>
<text transform="translate(265.00,20.70) scale(1,1.07)" font-size="23.5" text-anchor="start" >B</text>
<text transform="translate(265.00,503.40) scale(1,1.07)" font-size="23.5" text-anchor="start" >C</text>
<text transform="translate(1.20,877.60) scale(1,1.07)" font-size="23.5" text-anchor="start" >D</text>
<text transform="translate(367.50,877.30) scale(1,1.07)" font-size="23.5" text-anchor="start" >E</text>
<rect x="345" y="395.2" width="132" height="34.6" fill="#f8f8f8" filter="url(#b3)"/>
<rect x="350" y="395.2" width="51" height="34.6" fill="#dedede" filter="url(#b3)"/>
<g filter="url(#b3)" fill="#000"><rect x="355.60" y="405.40" width="40.90" height="14.80"/><rect x="347.80" y="405.00" width="23.40" height="15.60" rx="8.58" ry="7.80"/><rect x="380.90" y="405.00" width="23.40" height="15.60" rx="8.58" ry="7.80"/></g>
<g filter="url(#b3)" fill="#000"><rect x="427.10" y="406.60" width="42.35" height="8.60"/><rect x="423.00" y="406.80" width="12.30" height="8.20" rx="4.51" ry="4.10"/><rect x="459.95" y="405.55" width="14.25" height="9.50" rx="5.23" ry="4.75"/></g>
<rect x="345" y="437" width="132" height="31" fill="#f4f4f4" filter="url(#b3)"/>
<g filter="url(#b3)" fill="#000"><rect x="355.10" y="447.40" width="39.10" height="15.20"/><rect x="347.30" y="447.20" width="23.40" height="15.60" rx="8.58" ry="7.80"/><rect x="378.60" y="447.20" width="23.40" height="15.60" rx="8.58" ry="7.80"/></g>
<g filter="url(#b3)" fill="#000"><rect x="421.30" y="445.50" width="45.60" height="14.20"/><rect x="414.00" y="445.30" width="21.90" height="14.60" rx="8.03" ry="7.30"/><rect x="452.30" y="445.30" width="21.90" height="14.60" rx="8.03" ry="7.30"/></g>
<text x="357.80" y="389.90" font-size="16" text-anchor="start">siCtrl</text>
<text x="409.70" y="389.90" font-size="16" text-anchor="start">siVEGFR1</text>
<text x="343.30" y="416.70" font-size="16" text-anchor="end">VEGFR1</text>
<text x="477.60" y="416.70" font-size="16" text-anchor="start">151 kDa</text>
<text x="340.60" y="457.00" font-size="16" text-anchor="end">GAPDH</text>
<text x="481.40" y="457.00" font-size="16" text-anchor="start">36 kDa</text>
<path d="M627,397 L669,396.5 L675.5,428.6 L633,428.6 Z" fill="url(#gv2)" filter="url(#b3)"/>
<path d="M631,405 Q650,403.5 669,402 L671.5,418 Q661,415.5 650,416.5 Q640,417.5 632,419.5 Z" fill="#000" filter="url(#b3)"/>
<path d="M686.5,397 L725,397 L729.5,428 L690,428 Z" fill="#ececec" filter="url(#b3)"/>
<path d="M690,409 L722,408 L728,422 L692,418 Z" fill="#c4c4c4" filter="url(#b2)"/>
<g filter="url(#b3)" fill="#000"><rect x="633.30" y="444.55" width="34.50" height="17.70"/><rect x="624.30" y="444.40" width="27.00" height="18.00" rx="9.90" ry="9.00"/><rect x="649.80" y="444.40" width="27.00" height="18.00" rx="9.90" ry="9.00"/></g>
<g filter="url(#b3)" fill="#000"><rect x="694.55" y="443.95" width="34.20" height="17.70"/><rect x="685.30" y="443.55" width="27.75" height="18.50" rx="10.18" ry="9.25"/><rect x="710.25" y="443.55" width="27.75" height="18.50" rx="10.18" ry="9.25"/></g>
<text x="627.20" y="389.90" font-size="16" text-anchor="start">siCtrl</text>
<text x="674.40" y="389.90" font-size="16" text-anchor="start">siVEGFR2</text>
<text x="620.60" y="416.70" font-size="16" text-anchor="end">VEGFR2</text>
<text x="742.30" y="416.70" font-size="16" text-anchor="start">210 kDa</text>
<text x="616.80" y="457.00" font-size="16" text-anchor="end">GAPDH</text>
<text x="747.50" y="457.00" font-size="16" text-anchor="start">36 kDa</text>
<rect x="894.1" y="396.5" width="47.8" height="36.4" fill="#a8a8a8" filter="url(#b3)"/>
<g fill="#000" filter="url(#b1)"><rect x="898.5" y="404.5" width="21.5" height="27.5" rx="7" ry="6"/><rect x="918.5" y="400.2" width="21.5" height="27" rx="7" ry="6"/><rect x="906" y="410.5" width="24" height="14"/></g>
<rect x="957" y="396.5" width="44.3" height="36.4" fill="#e0e0e0" filter="url(#b3)"/>
<ellipse cx="965.5" cy="416" rx="4.5" ry="10.5" fill="#7a7a7a" filter="url(#b2)"/>
<ellipse cx="994" cy="416" rx="4" ry="9" fill="#cfcfcf" filter="url(#b2)"/>
<rect x="894" y="437" width="112" height="31.6" fill="#efefef" filter="url(#b3)"/>
<g filter="url(#b3)" fill="#000"><rect x="907.80" y="444.40" width="31.20" height="19.20"/><rect x="898.30" y="444.50" width="28.50" height="19.00" rx="10.45" ry="9.50"/><rect x="920.00" y="444.50" width="28.50" height="19.00" rx="10.45" ry="9.50"/></g>
<g filter="url(#b3)" fill="#000"><rect x="956.00" y="444.40" width="34.00" height="19.20"/><rect x="946.50" y="444.50" width="28.50" height="19.00" rx="10.45" ry="9.50"/><rect x="971.00" y="444.50" width="28.50" height="19.00" rx="10.45" ry="9.50"/></g>
<text x="895.00" y="391.40" font-size="16" text-anchor="start">siCtrl</text>
<text x="940.00" y="391.40" font-size="16" text-anchor="start">siVEGFR3</text>
<text x="891.50" y="418.00" font-size="16" text-anchor="end">VEGFR3</text>
<text x="1012.60" y="418.00" font-size="16" text-anchor="start">153 kDa</text>
<text x="887.10" y="458.30" font-size="16" text-anchor="end">GAPDH</text>
<text x="1016.50" y="458.30" font-size="16" text-anchor="start">36 kDa</text>
<rect x="69.3" y="939.3" width="227.9" height="66.4" fill="#ebebeb"/>
<rect x="140" y="939.3" width="6" height="66.4" fill="#efefef" filter="url(#b3)"/>
<rect x="224" y="939.3" width="8" height="66.4" fill="#efefef" filter="url(#b3)"/>
<rect x="232.4" y="939.3" width="51.3" height="66.4" fill="url(#gd3)" filter="url(#b3)"/>
<g filter="url(#b3)" fill="#000"><rect x="241.30" y="967.40" width="33.70" height="16.20"/><rect x="232.80" y="967.00" width="25.50" height="17.00" rx="9.35" ry="8.50"/><rect x="258.00" y="967.00" width="25.50" height="17.00" rx="9.35" ry="8.50"/></g>
<rect x="71.6" y="1018" width="225.6" height="65.8" fill="#e5e5e5"/>
<rect x="140.4" y="1018" width="10.5" height="65.8" fill="#f0f0f0" filter="url(#b3)"/>
<rect x="218.4" y="1018" width="8.2" height="65.8" fill="#f0f0f0" filter="url(#b3)"/>
<g fill="#d2d2d2" filter="url(#b4)"><rect x="78" y="1036" width="60" height="30"/><rect x="154" y="1037" width="58" height="28"/><rect x="229" y="1038" width="57" height="26"/></g>
<g filter="url(#b3)" fill="#000"><rect x="83.55" y="1044.60" width="48.40" height="14.20"/><rect x="76.30" y="1044.45" width="21.75" height="14.50" rx="7.98" ry="7.25"/><rect x="117.45" y="1044.45" width="21.75" height="14.50" rx="7.98" ry="7.25"/></g>
<g filter="url(#b3)" fill="#000"><rect x="159.45" y="1045.30" width="48.10" height="12.20"/><rect x="153.20" y="1045.15" width="18.75" height="12.50" rx="6.88" ry="6.25"/><rect x="195.05" y="1045.15" width="18.75" height="12.50" rx="6.88" ry="6.25"/></g>
<g filter="url(#b3)" fill="#000"><rect x="233.30" y="1045.85" width="48.40" height="10.70"/><rect x="227.80" y="1045.70" width="16.50" height="11.00" rx="6.05" ry="5.50"/><rect x="270.70" y="1045.70" width="16.50" height="11.00" rx="6.05" ry="5.50"/></g>
<text x="90.30" y="935.50" font-size="16" text-anchor="start">Mock</text>
<text x="154.10" y="935.50" font-size="16" text-anchor="start">pVector</text>
<text x="224.10" y="935.50" font-size="16" text-anchor="start">pVEGFR2</text>
<text x="65.50" y="978.30" font-size="16" text-anchor="end">VEGFR2</text>
<text x="299.30" y="978.30" font-size="16" text-anchor="start">210 kDa</text>
<text x="62.00" y="1055.90" font-size="16" text-anchor="end">GAPDH</text>
<text x="303.40" y="1055.90" font-size="16" text-anchor="start">36 kDa</text>
</svg>
</body></html>
